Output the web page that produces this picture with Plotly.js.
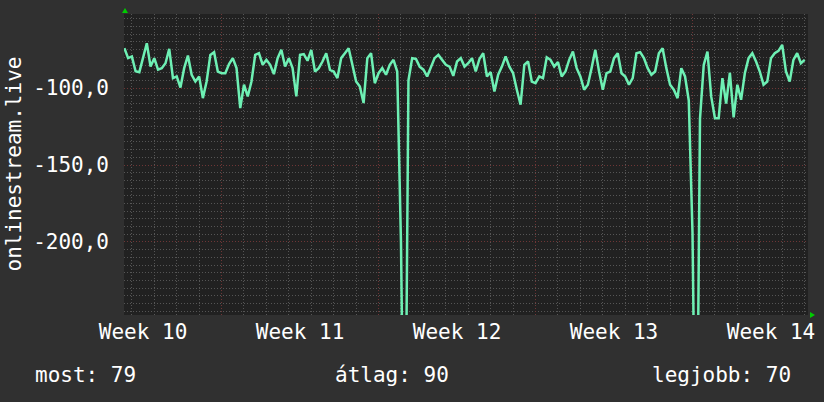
<!DOCTYPE html>
<html>
<head>
<meta charset="utf-8">
<script src="https://cdn.plot.ly/plotly-3.0.1.min.js"></script>
<style>
html,body{margin:0;padding:0;background:#303030;}
#chart{width:824px;height:402px;}
</style>
</head>
<body>
<div id="chart"></div>
<script>
// time axis: days relative to Monday 00:00 of week 11
const startDay = -4.333;
const stepDay = 1/6; // 4-hour samples
const seriesName = 'onlinestream.live';
const values = [
 -74, -80.5, -79.4, -89, -89.6, -80.5, -70.8, -86, -80.5, -88,
 -87, -83.8, -74.5, -93.5, -92.4, -99.6, -87, -78.8, -91.3, -95.7,
 -92.4, -106.5, -95.7, -78.4, -76.6, -89.2, -90.3, -90.3, -84.4, -80.5,
 -87, -113, -97.8, -105.4, -95.7, -78.4, -77.3, -84.8, -81.6, -84.8,
 -90.9, -80.5, -75.1, -86, -80.5, -87, -105.4, -78.4, -77.9, -82.2,
 -75.1, -89.2, -87, -82.7, -77.3, -88.1, -89.2, -93.5, -80.5, -77.3,
 -74, -84.8, -95.7, -99, -109.7, -80.5, -77.3, -96.8, -90.3, -87,
 -91.3, -84.8, -81.6, -89.2, -200, -400, -95, -80.5, -81, -86,
 -88, -92.4, -87, -80.5, -78.4, -81.6, -84.8, -86, -92, -82.7,
 -80.5, -86, -83.8, -80.5, -89.2, -81, -77.3, -92.4, -89.6, -102.2,
 -91.3, -86, -79.4, -86, -90.3, -101, -110.8, -84.8, -82.7, -95.7,
 -96.8, -92.4, -93.5, -80, -81.6, -86, -83.1, -92.4, -89.2, -81.6,
 -76.2, -87, -92.4, -101, -97.8, -87, -75.1, -89.2, -101, -90.3,
 -89.2, -80.5, -77.3, -90.3, -92.4, -97.8, -93.5, -77.3, -76.6, -80.5,
 -87, -91.3, -89.2, -77.3, -74, -87, -97.8, -101, -106.5, -87,
 -92.4, -108, -194, -400, -120, -85, -76.2, -105.4, -119.5, -119.5,
 -93.5, -110, -90, -119, -97.8, -107.6, -90.3, -80.5, -77.3, -82.7,
 -89.2, -97.8, -95.7, -80.5, -77.3, -75.8, -71.9, -89.2, -95.7, -81.6,
 -77.3, -83.8, -81.6
];
const weekLabels = ['Week 10','Week 11','Week 12','Week 13','Week 14'];
const weekLabelPos = [-3.5, 3.5, 10.5, 17.5, 24.5];
const yTickVals = [-100, -150, -200];
const yTickText = ['-100,0', '-150,0', '-200,0'];
const legendTexts = ['most: 79', 'átlag: 90', 'legjobb: 70'];

const times = values.map((v, i) => startDay + i * stepDay);

const W = 824, H = 402;
const M = {l:124, r:16, t:14, b:87};
const PW = W - M.l - M.r, PH = H - M.t - M.b;
const px = x => (x - M.l) / PW;
const py = y => (H - M.b - y) / PH;

const FONT = 'DejaVu Sans Mono, monospace';
const xRange = [-4.35, 26.15];
const yRange = [-247.5, -51.8];

const traces = [
  {x: times, y: values, type: 'scatter', mode: 'lines', name: seriesName,
   line: {color: '#6ef0b4', width: 2.5}, xaxis: 'x', yaxis: 'y', hoverinfo: 'skip'},
  {x: [], y: [], type: 'scatter', mode: 'lines', xaxis: 'x2', yaxis: 'y', showlegend: false}
];

const dash = '1px,2px';
const majorGrid = '#6e3636';
const minorGrid = '#555555';
const layout = {
  width: W, height: H,
  paper_bgcolor: '#303030', plot_bgcolor: '#212121',
  margin: M,
  showlegend: false,
  font: {family: FONT, size: 21, color: '#ffffff'},
  xaxis: {
    range: xRange, tickmode: 'linear', tick0: 0, dtick: 7,
    showticklabels: false, ticks: '', zeroline: false,
    showgrid: true, gridcolor: majorGrid, griddash: dash, gridwidth: 1,
    minor: {tickmode: 'linear', tick0: 0, dtick: 1, showgrid: true, gridcolor: minorGrid, griddash: dash, gridwidth: 1},
    showline: false
  },
  xaxis2: {
    range: xRange, overlaying: 'x', anchor: 'y', side: 'bottom',
    tickmode: 'array', tickvals: weekLabelPos, ticktext: weekLabels,
    showgrid: false, zeroline: false, ticks: '', showline: false, ticklabelstandoff: 2,
    tickfont: {family: FONT, size: 21, color: '#ffffff'}
  },
  yaxis: {
    range: yRange, tickmode: 'array', tickvals: yTickVals, ticktext: yTickText,
    ticks: '', zeroline: false, ticklabelstandoff: 14,
    showgrid: true, gridcolor: majorGrid, griddash: dash, gridwidth: 1,
    minor: {tickmode: 'linear', tick0: 0, dtick: 5, showgrid: true, gridcolor: minorGrid, griddash: dash, gridwidth: 1},
    tickfont: {family: FONT, size: 21, color: '#ffffff'},
    showline: false
  },
  annotations: [
    {text: seriesName, textangle: -90, xref: 'paper', yref: 'paper', x: px(13), y: 0.5,
     xanchor: 'center', yanchor: 'middle', showarrow: false, font: {family: FONT, size: 21, color: '#ffffff'}},
    {text: legendTexts[0], xref: 'paper', yref: 'paper', x: px(33), y: py(375), xanchor: 'left', yanchor: 'middle', showarrow: false},
    {text: legendTexts[1], xref: 'paper', yref: 'paper', x: px(333), y: py(375), xanchor: 'left', yanchor: 'middle', showarrow: false},
    {text: legendTexts[2], xref: 'paper', yref: 'paper', x: px(650), y: py(375), xanchor: 'left', yanchor: 'middle', showarrow: false}
  ],
  shapes: [
    {type: 'path', xref: 'paper', yref: 'paper', layer: 'above',
     path: `M${px(125)},${py(8)} L${px(122)},${py(13)} L${px(128)},${py(13)} Z`,
     fillcolor: '#00cc00', line: {width: 0}},
    {type: 'path', xref: 'paper', yref: 'paper', layer: 'above',
     path: `M${px(815)},${py(315)} L${px(810)},${py(312)} L${px(810)},${py(318)} Z`,
     fillcolor: '#00cc00', line: {width: 0}}
  ]
};

Plotly.newPlot('chart', traces, layout, {staticPlot: true, displayModeBar: false});
</script>
</body>
</html>
